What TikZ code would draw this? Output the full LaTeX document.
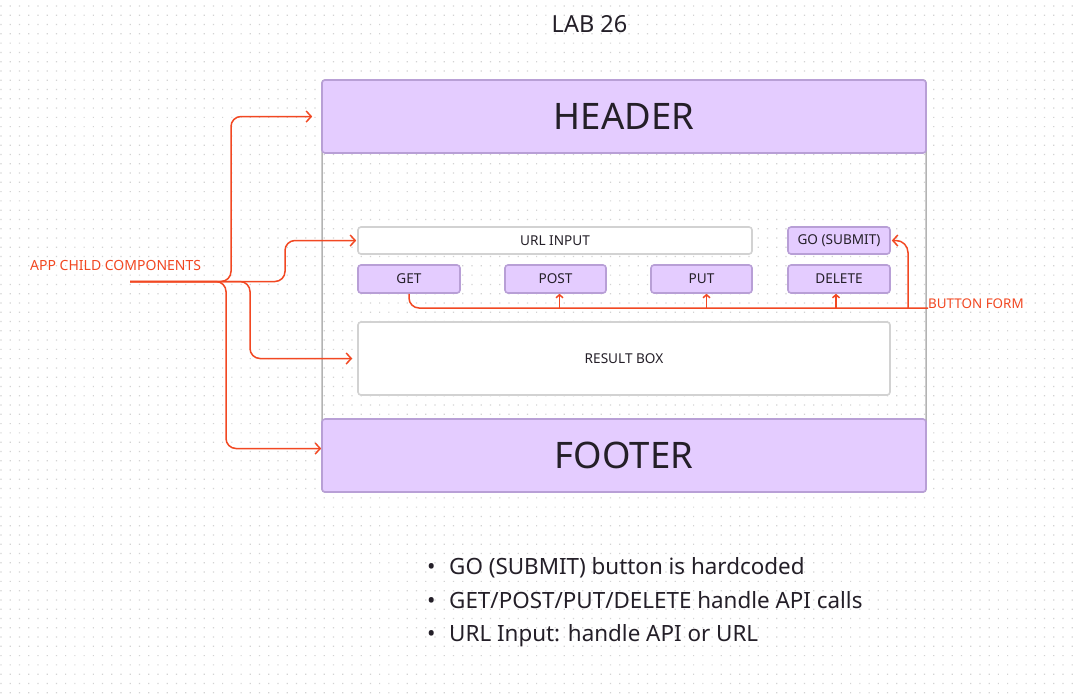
\documentclass[tikz,border=0pt]{standalone}
\usepackage{fontspec}
\setmainfont{Noto Sans}
\usetikzlibrary{arrows.meta}
\definecolor{lav}{HTML}{E4CCFF}
\definecolor{lavb}{HTML}{B89FD6}
\definecolor{figred}{HTML}{F24822}
\definecolor{ink}{HTML}{241F28}
\definecolor{frameg}{HTML}{B3B3B3}
\definecolor{boxg}{HTML}{D2D2D2}
\definecolor{dotg}{HTML}{D3D3D3}
\begin{document}
\begin{tikzpicture}[x=1pt,y=-1pt,
  purplebox/.style={draw=lavb, fill=lav, line width=1.6pt, rounded corners=3pt, text=ink, inner sep=0pt},
  whitebox/.style={draw=boxg, fill=white, line width=1.6pt, rounded corners=3pt, text=ink, inner sep=0pt},
  smalltext/.style={font=\fontsize{13.6}{15}\selectfont},
  bigtext/.style={font=\fontsize{36.5}{40}\selectfont},
  redlabel/.style={text=figred, inner sep=0pt, anchor=base west},
  redline/.style={draw=figred, line width=1.5pt, rounded corners=10pt},
  bigtip/.style={-{Straight Barb[length=5pt,width=11pt]}},
  smalltip/.style={-{Straight Barb[length=3pt,width=7pt]}},
  note/.style={anchor=base west, inner sep=0pt, text=ink, font=\fontsize{22.4}{26}\selectfont}
]
\useasboundingbox (0,0) rectangle (1078,697);
\fill[white] (0,0) rectangle (1078,697);
% dot grid
\foreach \j in {0,...,74} {
  \fill[dotg] \foreach \i in {0,...,116} { (0.4+\i*9.235, 5.4+\j*9.28) rectangle ++(1.2,1.2) };
}

% title
\node[anchor=base, inner sep=0pt, text=ink, font=\fontsize{23.5}{26}\selectfont] (title) at (589.5,32.3) {LAB 26};

% frame and boxes
\node[draw=frameg, line width=1.5pt, rounded corners=3pt, minimum width=604pt, minimum height=412pt, inner sep=0pt] (frame) at (624,286) {};
\node[purplebox, bigtext, minimum width=604pt, minimum height=73pt] (header) at (624,116.5) {HEADER};
\node[purplebox, bigtext, minimum width=604pt, minimum height=73pt] (footer) at (624,455.5) {FOOTER};

\node[whitebox, smalltext, minimum width=394pt, minimum height=27pt] (url) at (555,240.5) {URL INPUT};
\node[purplebox, smalltext, minimum width=102pt, minimum height=27pt] (go) at (839,240.5) {GO (SUBMIT)};
\node[purplebox, smalltext, minimum width=102pt, minimum height=28pt] (get) at (409,279) {GET};
\node[purplebox, smalltext, minimum width=101pt, minimum height=28pt] (post) at (555.5,279) {POST};
\node[purplebox, smalltext, minimum width=101pt, minimum height=28pt] (put) at (701.5,279) {PUT};
\node[purplebox, smalltext, minimum width=102pt, minimum height=28pt] (delete) at (839,279) {DELETE};
\node[whitebox, smalltext, minimum width=532pt, minimum height=73pt] (result) at (624,358.5) {RESULT BOX};

% labels
\node[redlabel, font=\fontsize{14}{16}\selectfont] (app) at (30,270) {APP CHILD COMPONENTS};
\node[redlabel, font=\fontsize{13.4}{15}\selectfont] (bform) at (928,308) {BUTTON FORM};

% app child components connectors
\coordinate (src) at (130,281.5);
\draw[redline, bigtip] (src) -- (231,281.5) |- ([xshift=-9pt]header.west);
\draw[redline, bigtip] (src) -- (285,281.5) |- ([xshift=-1pt]url.west);
\draw[redline, bigtip] (src) -- (250,281.5) |- ([xshift=-5pt]result.west);
\draw[redline, bigtip] (src) -- (226,281.5) |- ([yshift=7pt]footer.west);

% button form connectors
\coordinate (bfup) at (908,308);
\draw[redline] (get.south) |- (bform.base west);
\draw[redline, rounded corners=12pt, bigtip] (bfup) |- ([xshift=1pt]go.east);
\coordinate (postA) at ([xshift=4pt]post.south);
\coordinate (putA) at ([xshift=5pt]put.south);
\coordinate (delA) at ([xshift=-3pt]delete.south);
\draw[redline, smalltip] (postA |- bfup) -- (postA);
\draw[redline, smalltip] (putA |- bfup) -- (putA);
\draw[redline, smalltip] (delA |- bfup) -- (delA);

% notes
\node[note] (b1) at (427,574.3) {\hbox to 22pt{\textbullet\hss}GO (SUBMIT) button is hardcoded};
\node[note] (b2) at (427,608) {\hbox to 22pt{\textbullet\hss}GET/POST/PUT/DELETE handle API calls};
\node[note] (b3) at (427,641.7) {\hbox to 22pt{\textbullet\hss}URL Input: handle API or URL};
\end{tikzpicture}
\end{document}
